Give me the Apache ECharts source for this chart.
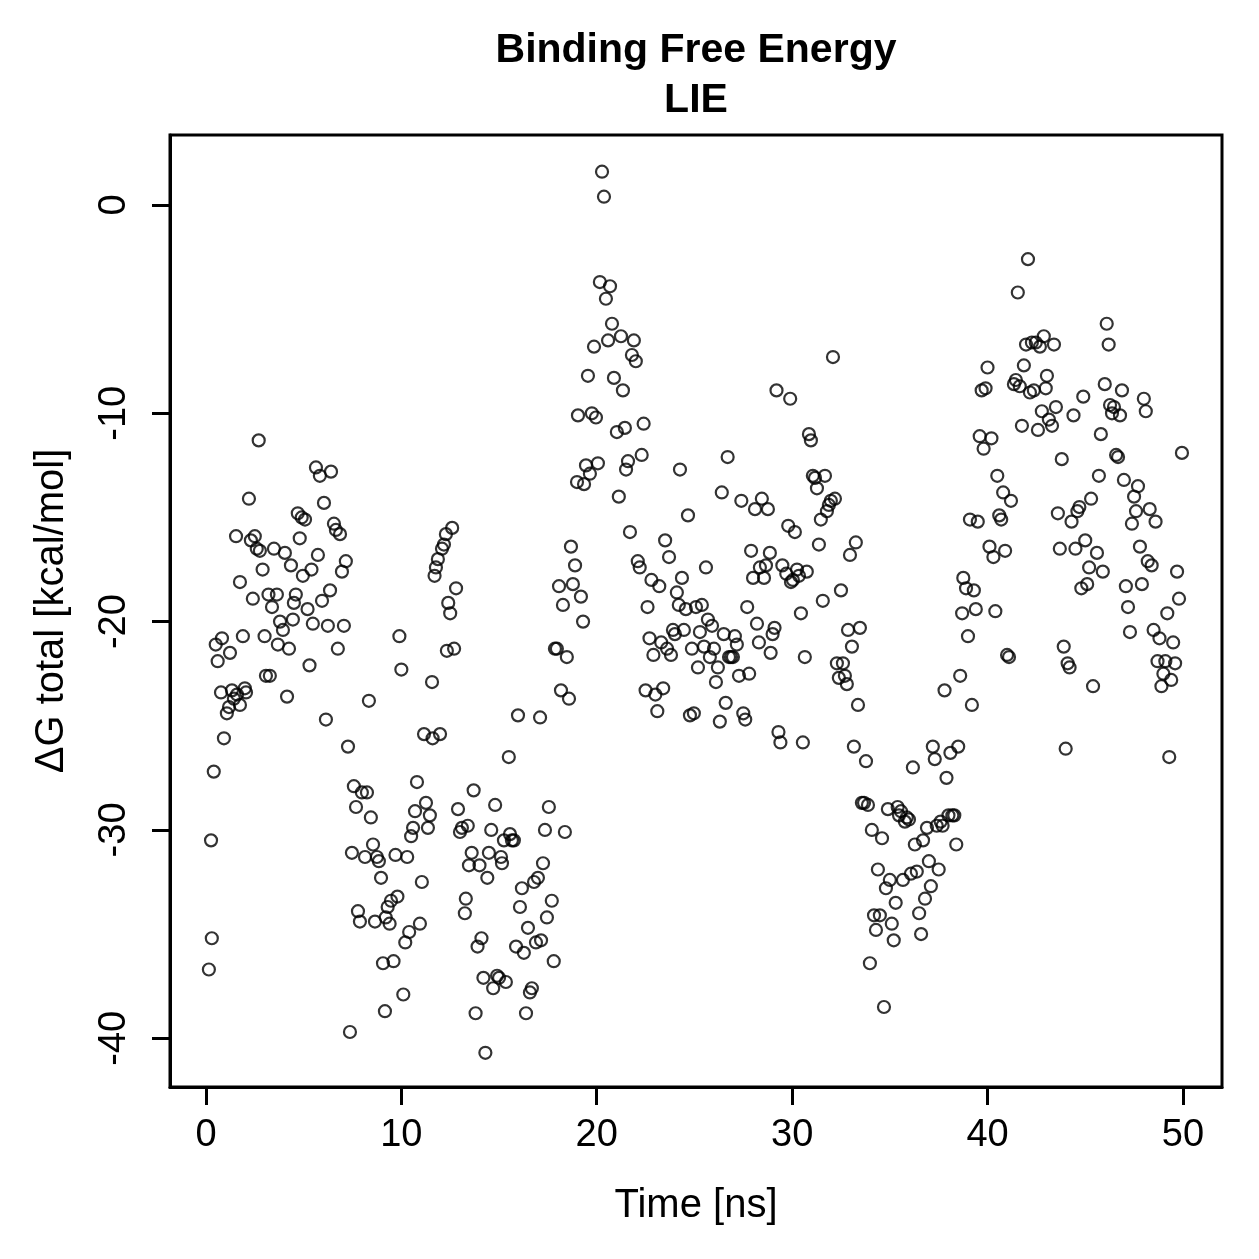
<!DOCTYPE html>
<html>
<head>
<meta charset="UTF-8">
<title>Binding Free Energy LIE</title>
<script src="https://cdn.jsdelivr.net/npm/echarts@6/dist/echarts.min.js"></script>
<style>
    html, body { margin: 0; padding: 0; background: #fff; }
    #main { width: 1259px; height: 1259px; }
</style>
</head>
<body>
<div id="main"></div>
<script>
// time [ns]
var time = [
    0.15,0.26,0.3,0.4,0.5,0.6,0.77,0.82,0.92,1.07,
    1.18,1.23,1.33,1.43,1.54,1.59,1.74,1.74,1.89,1.99,
    2.05,2.2,2.3,2.4,2.5,2.6,2.7,2.76,2.9,3.0,
    3.07,3.2,3.27,3.38,3.48,3.63,3.68,3.79,3.94,4.04,
    4.15,4.25,4.35,4.45,4.5,4.6,4.7,4.8,4.9,4.96,
    5.07,5.2,5.3,5.4,5.47,5.63,5.73,5.83,5.94,6.04,
    6.14,6.24,6.35,6.4,6.55,6.65,6.75,6.86,6.96,7.06,
    7.16,7.27,7.37,7.47,7.57,7.68,7.78,7.88,7.98,8.14,
    8.24,8.34,8.44,8.55,8.65,8.75,8.85,8.96,9.06,9.16,
    9.2,9.3,9.4,9.47,9.6,9.7,9.8,9.9,10.0,10.1,
    10.2,10.3,10.4,10.5,10.6,10.7,10.8,10.95,11.05,11.16,
    11.26,11.36,11.46,11.57,11.6,11.7,11.77,11.87,11.98,12.08,
    12.18,12.28,12.33,12.4,12.5,12.6,12.7,12.8,12.9,13.0,
    13.1,13.25,13.3,13.4,13.46,13.6,13.7,13.8,13.9,14.0,
    14.1,14.2,14.3,14.4,14.48,14.6,14.7,14.8,14.9,15.0,
    15.1,15.15,15.25,15.35,15.5,15.56,15.66,15.76,15.87,15.97,
    16.07,16.17,16.27,16.38,16.48,16.58,16.68,16.79,16.89,16.99,
    17.1,17.15,17.25,17.35,17.45,17.55,17.7,17.8,17.86,17.96,
    18.07,18.17,18.27,18.37,18.47,18.58,18.68,18.78,18.89,18.99,
    19.04,19.19,19.3,19.35,19.45,19.55,19.65,19.75,19.86,19.96,
    20.06,20.16,20.27,20.37,20.47,20.58,20.68,20.78,20.88,21.03,
    21.13,21.24,21.34,21.44,21.5,21.6,21.7,21.8,21.9,22.0,
    22.1,22.2,22.3,22.4,22.5,22.6,22.7,22.8,22.9,23.0,
    23.1,23.2,23.3,23.4,23.5,23.6,23.7,23.8,23.9,24.0,
    24.1,24.2,24.26,24.36,24.46,24.56,24.67,24.77,24.87,24.97,
    25.08,25.18,25.28,25.38,25.49,25.59,25.69,25.79,25.9,26.0,
    26.1,26.2,26.3,26.4,26.5,26.6,26.7,26.77,26.87,26.97,
    27.07,27.17,27.28,27.4,27.5,27.6,27.7,27.8,27.9,28.0,
    28.1,28.2,28.3,28.35,28.45,28.56,28.66,28.76,28.86,28.9,
    29.0,29.1,29.2,29.3,29.4,29.5,29.7,29.8,29.9,29.94,
    30.04,30.14,30.25,30.35,30.45,30.55,30.65,30.75,30.86,30.96,
    31.06,31.17,31.27,31.37,31.47,31.57,31.68,31.78,31.88,31.98,
    32.09,32.19,32.29,32.39,32.5,32.6,32.7,32.8,32.86,32.96,
    33.06,33.16,33.26,33.37,33.47,33.57,33.68,33.78,33.88,33.98,
    34.08,34.19,34.29,34.39,34.49,34.6,34.7,34.8,34.9,35.0,
    35.1,35.2,35.3,35.4,35.47,35.57,35.67,35.77,35.87,35.98,
    36.08,36.18,36.28,36.38,36.5,36.6,36.7,36.8,36.9,37.0,
    37.1,37.2,37.3,37.4,37.5,37.6,37.7,37.8,37.9,38.0,
    38.1,38.2,38.3,38.4,38.5,38.6,38.7,38.76,38.9,39.0,
    39.1,39.2,39.3,39.4,39.5,39.6,39.7,39.8,39.9,40.0,
    40.1,40.2,40.3,40.4,40.5,40.6,40.7,40.8,40.9,41.0,
    41.1,41.2,41.35,41.45,41.55,41.65,41.76,41.86,41.97,42.07,
    42.17,42.27,42.37,42.47,42.58,42.68,42.78,42.88,42.98,43.04,
    43.14,43.3,43.4,43.5,43.6,43.7,43.8,43.9,44.0,44.1,
    44.2,44.3,44.4,44.5,44.6,44.7,44.8,44.9,45.0,45.1,
    45.2,45.3,45.4,45.6,45.7,45.8,45.9,46.0,46.1,46.2,
    46.27,46.37,46.47,46.58,46.68,46.78,46.88,46.98,47.08,47.19,
    47.29,47.39,47.5,47.6,47.7,47.8,47.9,48.0,48.1,48.2,
    48.3,48.4,48.5,48.6,48.7,48.8,48.9,49.0,49.1,49.2,
    49.3,49.4,49.5,49.6,49.7,49.8,49.95
];
// ΔG total [kcal/mol]
var dG = [
    -36.7,-30.5,-35.2,-27.2,-21.1,-21.9,-23.4,-20.8,-25.6,-24.4,
    -24.1,-21.5,-23.3,-23.7,-15.9,-23.5,-18.1,-24.0,-20.7,-23.2,
    -23.4,-14.1,-16.1,-18.9,-15.9,-16.5,-11.3,-16.6,-17.5,-20.7,
    -22.6,-18.7,-22.6,-19.3,-16.5,-18.7,-21.1,-20.0,-20.4,-16.7,
    -23.6,-21.3,-17.3,-19.9,-19.1,-18.7,-14.8,-16.0,-15.0,-17.8,
    -15.1,-19.4,-22.1,-17.5,-20.1,-12.6,-16.8,-13.0,-19.0,-14.3,
    -24.7,-20.2,-18.5,-12.8,-15.3,-15.6,-21.3,-15.8,-17.6,-20.2,
    -17.1,-26.0,-39.7,-31.1,-27.9,-28.9,-33.9,-34.4,-28.2,-31.3,
    -28.2,-23.8,-29.4,-30.7,-34.4,-31.3,-31.5,-32.3,-36.4,-38.7,
    -34.2,-33.7,-34.5,-33.4,-36.3,-31.2,-33.2,-20.7,-22.3,-37.9,
    -35.4,-31.3,-34.9,-30.3,-29.9,-29.1,-27.7,-34.5,-32.5,-25.4,
    -28.7,-29.9,-29.3,-22.9,-25.6,-17.8,-17.4,-17.0,-25.4,-16.5,
    -16.3,-15.8,-21.4,-19.1,-19.6,-15.5,-21.3,-18.4,-29.0,-30.1,
    -29.9,-34.0,-33.3,-29.8,-31.7,-31.1,-28.1,-38.8,-35.6,-31.7,
    -35.2,-37.1,-40.7,-32.3,-31.1,-30.0,-37.6,-28.8,-37.0,-37.1,
    -31.3,-31.6,-30.5,-37.3,-26.5,-30.2,-30.5,-30.5,-35.6,-24.5,
    -33.7,-32.8,-35.9,-38.8,-34.7,-37.8,-37.6,-32.5,-35.4,-32.3,
    -24.6,-35.3,-31.6,-30.0,-34.2,-28.9,-33.4,-36.3,-21.3,-21.3,
    -18.3,-23.3,-19.2,-30.1,-21.7,-23.7,-16.4,-18.2,-17.3,-13.3,
    -10.1,-18.8,-20.0,-13.4,-12.5,-8.2,-12.9,-10.0,-6.8,-10.2,
    -12.4,-3.7,1.6,0.4,-4.5,-6.5,-3.9,-5.7,-8.3,-10.9,
    -14.0,-6.3,-8.9,-10.7,-12.7,-12.3,-15.7,-7.2,-6.5,-7.5,
    -17.1,-17.4,-12.0,-10.5,-23.3,-19.3,-20.8,-18.0,-21.6,-23.5,
    -24.3,-18.3,-21.0,-23.2,-16.1,-21.3,-16.9,-21.6,-20.4,-20.6,
    -18.6,-19.2,-12.7,-17.9,-20.4,-19.4,-14.9,-24.5,-21.3,-24.4,
    -19.3,-22.2,-20.5,-19.2,-21.2,-17.4,-19.9,-21.7,-20.2,-21.3,
    -22.9,-22.2,-24.8,-13.8,-20.6,-23.9,-12.1,-21.7,-21.7,-21.7,
    -20.7,-21.1,-22.6,-14.2,-24.4,-24.7,-19.3,-22.5,-16.6,-17.9,
    -14.6,-20.1,-21.0,-17.4,-14.1,-17.9,-17.3,-14.6,-16.7,-21.5,
    -20.6,-20.3,-8.9,-25.3,-25.8,-17.3,-17.7,-15.4,-9.3,-18.1,
    -18.0,-15.7,-17.5,-17.8,-19.6,-25.8,-21.7,-17.6,-11.0,-11.3,
    -13.0,-13.1,-13.6,-16.3,-15.1,-19.0,-13.0,-14.7,-14.4,-14.2,
    -7.3,-14.1,-22.0,-22.7,-18.5,-22.0,-22.6,-23.0,-20.4,-16.8,
    -21.2,-26.0,-16.2,-24.0,-20.3,-28.7,-28.7,-26.7,-28.8,-36.4,
    -30.0,-34.1,-34.8,-31.9,-34.1,-30.4,-38.5,-32.8,-29.0,-32.4,
    -34.5,-35.3,-33.5,-28.9,-29.3,-29.1,-32.4,-29.6,-29.4,-29.5,
    -32.1,-27.0,-30.7,-32.0,-34.0,-35.0,-30.5,-33.3,-29.9,-31.5,
    -32.7,-26.0,-26.6,-29.8,-31.9,-29.6,-29.8,-23.3,-27.5,-29.3,
    -26.3,-29.3,-29.3,-30.7,-26.0,-22.6,-19.6,-17.9,-18.4,-20.7,
    -15.1,-24.0,-18.5,-19.4,-15.2,-11.1,-8.9,-11.7,-8.8,-7.8,
    -16.4,-11.2,-16.9,-19.5,-13.0,-14.9,-15.1,-13.8,-16.6,-21.6,
    -21.7,-14.2,-8.6,-8.4,-4.2,-8.7,-10.6,-7.7,-6.7,-2.6,
    -9.0,-6.6,-8.9,-6.6,-10.8,-6.8,-9.9,-6.3,-8.8,-8.2,
    -10.3,-10.6,-6.7,-9.7,-14.8,-16.5,-12.2,-21.2,-26.1,-22.0,
    -22.2,-15.2,-10.1,-16.5,-14.7,-14.5,-18.4,-9.2,-16.1,-18.2,
    -17.4,-14.1,-23.1,-16.7,-13.0,-11.0,-17.6,-8.6,-5.7,-6.7,
    -9.6,-10.0,-9.7,-12.0,-12.1,-10.1,-8.9,-13.2,-18.3,-19.3,
    -20.5,-15.3,-14.0,-14.7,-13.5,-16.4,-18.2,-9.3,-9.9,-17.1,
    -14.6,-17.3,-20.4,-15.2,-21.9,-20.8,-23.1,-22.5,-21.9,-19.6,
    -26.5,-22.8,-21.0,-22.0,-17.6,-18.9,-11.9
];
var xTicks = [0, 10, 20, 30, 40, 50];
var yTicks = [-40, -30, -20, -10, 0];

// axis ranges (R style, 4% padding around the data)
var xMin = -1.84, xMax = 52.0;
var yMin = -42.34, yMax = 3.36;

var font = 'Liberation Sans, Arial, Helvetica, sans-serif';

var points = time.map(function (t, i) {
    return [t, dG[i]];
});

var tickStyle = {
    show: true,
    length: 18,
    lineStyle: { color: '#000', width: 3 }
};

var chart = echarts.init(document.getElementById('main'));
var option = {
    animation: false,
    backgroundColor: '#fff',
    title: {
        text: 'Binding Free Energy\nLIE',
        left: 691,
        top: 21,
        textAlign: 'center',
        textStyle: {
            fontFamily: font,
            fontSize: 41,
            fontWeight: 'bold',
            lineHeight: 50,
            color: '#000'
        }
    },
    grid: {
        left: 170,
        top: 135,
        width: 1052,
        height: 952,
        show: true,
        borderColor: '#000',
        borderWidth: 3,
        backgroundColor: 'transparent'
    },
    xAxis: [
        {
            type: 'value',
            min: xMin,
            max: xMax,
            name: 'Time [ns]',
            nameLocation: 'middle',
            nameGap: 99,
            nameTextStyle: { fontFamily: font, fontSize: 40, color: '#000' },
            // sits on the bottom edge through the helper y axis whose zero is there
            axisLine: { show: true, onZero: true, onZeroAxisIndex: 1, lineStyle: { color: '#000', width: 3 } },
            splitLine: { show: false },
            axisTick: Object.assign({ customValues: xTicks }, tickStyle),
            axisLabel: {
                customValues: xTicks,
                margin: 30,
                fontFamily: font,
                fontSize: 38,
                color: '#000'
            }
        },
        { type: 'value', min: 0, max: 1, show: false }
    ],
    yAxis: [
        {
            type: 'value',
            min: yMin,
            max: yMax,
            name: 'ΔG total [kcal/mol]',
            nameLocation: 'middle',
            nameGap: 98,
            nameTextStyle: { fontFamily: font, fontSize: 40, color: '#000' },
            axisLine: { show: true, onZero: true, onZeroAxisIndex: 1, lineStyle: { color: '#000', width: 3 } },
            splitLine: { show: false },
            axisTick: Object.assign({ customValues: yTicks }, tickStyle),
            axisLabel: {
                customValues: yTicks,
                rotate: 90,
                margin: 36,
                fontFamily: font,
                fontSize: 38,
                color: '#000'
            }
        },
        { type: 'value', min: 0, max: 1, show: false }
    ],
    series: [
        {
            type: 'scatter',
            xAxisIndex: 0,
            yAxisIndex: 0,
            data: points,
            symbol: 'circle',
            symbolSize: 12,
            itemStyle: {
                color: 'transparent',
                borderColor: '#000',
                borderWidth: 2.2
            }
        }
    ]
};
chart.setOption(option);
</script>
</body>
</html>
